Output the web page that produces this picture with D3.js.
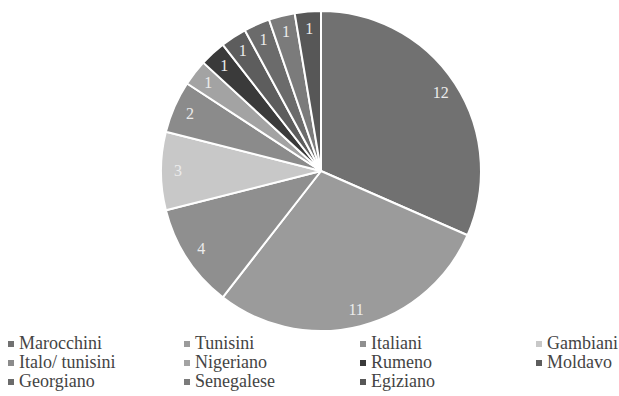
<!DOCTYPE html>
<html><head><meta charset="utf-8"><script src="https://cdn.jsdelivr.net/npm/d3@7"></script></head>
<body style="margin:0">
<svg id="chart" width="619" height="396"></svg>
<script>
const categories = ["Marocchini", "Tunisini", "Italiani", "Gambiani", "Italo/ tunisini", "Nigeriano", "Rumeno", "Moldavo", "Georgiano", "Senegalese", "Egiziano"];
const values = [12, 11, 4, 3, 2, 1, 1, 1, 1, 1, 1];
const colors = ["#717171", "#9b9b9b", "#8f8f8f", "#c8c8c8", "#8b8b8b", "#a3a3a3", "#3a3a3a", "#5d5d5d", "#6b6b6b", "#7b7b7b", "#575757"];

const svg = d3.select("#chart");
const cx = 321, cy = 171, R = 160;

const data = categories.map((c, i) => ({ name: c, value: values[i], color: colors[i] }));
const pie = d3.pie().value(d => d.value).sort(null);
const arcs = pie(data);
const arc = d3.arc().innerRadius(0).outerRadius(R);
const labelArc = d3.arc().innerRadius(143).outerRadius(143);

const g = svg.append("g").attr("transform", `translate(${cx},${cy})`);
g.selectAll("path").data(arcs).enter().append("path")
  .attr("d", arc)
  .attr("fill", d => d.data.color)
  .attr("stroke", "#ffffff")
  .attr("stroke-width", 2)
  .attr("stroke-linejoin", "round");

g.selectAll("text").data(arcs).enter().append("text")
  .attr("x", d => labelArc.centroid(d)[0])
  .attr("y", d => labelArc.centroid(d)[1] + 5)
  .attr("text-anchor", "middle")
  .style("font-family", "Times New Roman")
  .style("font-size", "16px")
  .attr("fill", "#ececec")
  .text(d => d.data.value);

// Legend
const colX = d3.scaleLinear().domain([0, 3]).range([8, 536]);
const rowY = d3.scaleLinear().domain([0, 2]).range([349, 387]);
svg.selectAll("rect.leg").data(data).enter().append("rect")
  .attr("class", "leg")
  .attr("x", (d, i) => colX(i % 4))
  .attr("y", (d, i) => rowY(Math.floor(i / 4)) - 8)
  .attr("width", 6).attr("height", 6)
  .attr("fill", d => d.color);
svg.selectAll("text.leg").data(data).enter().append("text")
  .attr("class", "leg")
  .attr("x", (d, i) => colX(i % 4) + 11)
  .attr("y", (d, i) => rowY(Math.floor(i / 4)))
  .style("font-family", "Times New Roman")
  .style("font-size", "18px")
  .attr("fill", "#444444")
  .text(d => d.name);
</script>
</body></html>
